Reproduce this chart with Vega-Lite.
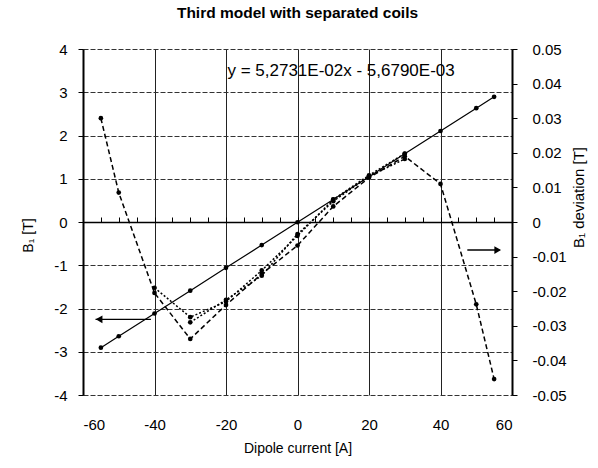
{
  "$schema": "https://vega.github.io/schema/vega-lite/v6.json",
  "width": 429,
  "height": 346,
  "autosize": "none",
  "padding": {"left": 83, "top": 49, "right": 86, "bottom": 73},
  "background": "white",
  "title": {"text": "Third model with separated coils", "fontSize": 15.5, "font": "Liberation Sans", "fontWeight": "bold", "anchor": "middle", "offset": 21, "color": "black"},
  "config": {
    "view": {"stroke": null},
    "axis": {"labelFont": "Liberation Sans", "titleFont": "Liberation Sans", "labelColor": "black", "titleColor": "black", "titleFontWeight": "normal", "tickColor": "black", "domainColor": "black", "labelExpr": "replace(datum.label, '−', '-')"}
  },
  "datasets": {
    "fit": [
      {"I": -55, "B": -2.906}, {"I": -50, "B": -2.642}, {"I": -40, "B": -2.115},
      {"I": -30, "B": -1.588}, {"I": -20, "B": -1.060}, {"I": -10, "B": -0.533},
      {"I": 0, "B": -0.006}, {"I": 10, "B": 0.522}, {"I": 20, "B": 1.049},
      {"I": 30, "B": 1.576}, {"I": 40, "B": 2.104}, {"I": 50, "B": 2.631}, {"I": 55, "B": 2.895}
    ],
    "dev": [
      {"I": -55, "dev": 0.0300, "s": "A"}, {"I": -50, "dev": 0.0085, "s": "A"}, {"I": -40, "dev": -0.0205, "s": "A"},
      {"I": -30, "dev": -0.0338, "s": "A"}, {"I": -20, "dev": -0.0240, "s": "A"}, {"I": -10, "dev": -0.0150, "s": "A"},
      {"I": 0, "dev": -0.0068, "s": "A"}, {"I": 10, "dev": 0.0045, "s": "A"}, {"I": 20, "dev": 0.0128, "s": "A"},
      {"I": 30, "dev": 0.0190, "s": "A"}, {"I": 40, "dev": 0.0110, "s": "A"}, {"I": 50, "dev": -0.0238, "s": "A"},
      {"I": 55, "dev": -0.0454, "s": "A"},
      {"I": -40, "dev": -0.0190, "s": "B"}, {"I": -30, "dev": -0.0275, "s": "B"}, {"I": -20, "dev": -0.0230, "s": "B"},
      {"I": -10, "dev": -0.0140, "s": "B"}, {"I": 0, "dev": -0.0040, "s": "B"}, {"I": 10, "dev": 0.0065, "s": "B"},
      {"I": 20, "dev": 0.0135, "s": "B"}, {"I": 30, "dev": 0.0198, "s": "B"},
      {"I": -30, "dev": -0.0290, "s": "C"}, {"I": -20, "dev": -0.0225, "s": "C"}, {"I": -10, "dev": -0.0155, "s": "C"},
      {"I": 0, "dev": -0.0035, "s": "C"}, {"I": 10, "dev": 0.0060, "s": "C"}, {"I": 20, "dev": 0.0132, "s": "C"},
      {"I": 30, "dev": 0.0182, "s": "C"}
    ]
  },
  "layer": [
    {
      "encoding": {
        "x": {"field": "I", "type": "quantitative", "scale": {"domain": [-60, 60], "nice": false},
          "axis": {"orient": "bottom", "values": [-60, -40, -20, 0, 20, 40, 60], "grid": true, "gridColor": "#222", "gridWidth": 1, "domain": false, "tickSize": 0, "labelPadding": 22, "labelFontSize": 15, "title": "Dipole current [A]", "titleFontSize": 14, "titlePadding": 9}},
        "y": {"field": "B", "type": "quantitative", "scale": {"domain": [-4, 4], "nice": false},
          "axis": {"orient": "left", "values": [-4, -3, -2, -1, 0, 1, 2, 3, 4], "grid": true, "gridColor": "#333", "gridDash": [5, 2], "gridWidth": 1, "domainWidth": 2, "tickSize": 5, "labelFontSize": 15, "labelPadding": 11, "title": "B₁ [T]", "titleFontSize": 14, "titleX": -48, "titleY": 186}}
      },
      "layer": [
        {"data": {"name": "fit"}, "mark": {"type": "line", "color": "black", "strokeWidth": 1.2, "point": {"filled": true, "size": 22, "color": "black"}}},
        {"data": {"values": [{"I": -56.5, "I2": -41, "B": -2.25}]}, "mark": {"type": "rule", "color": "black", "strokeWidth": 1.2}, "encoding": {"x2": {"field": "I2"}}},
        {"data": {"values": [{"I": -55.5, "B": -2.25}]}, "mark": {"type": "point", "shape": "triangle-left", "filled": true, "color": "black", "size": 60, "opacity": 1}},
        {"data": {"values": [{"I": -19.6, "B": 3.49, "label": "y = 5,2731E-02x - 5,6790E-03"}]}, "mark": {"type": "text", "align": "left", "baseline": "middle", "font": "Liberation Sans", "fontSize": 17, "color": "black"}, "encoding": {"text": {"field": "label"}}}
      ]
    },
    {
      "encoding": {
        "x": {"field": "I", "type": "quantitative",
          "axis": {"orient": "top", "offset": -173, "labels": false, "values": [-55, -50, -45, -40, -35, -30, -25, -20, -15, -10, -5, 0, 5, 10, 15, 20, 25, 30, 35, 40, 45, 50, 55], "tickSize": 5, "domainWidth": 1.5, "grid": false, "title": null}},
        "y": {"field": "dev", "type": "quantitative", "scale": {"domain": [-0.05, 0.05], "nice": false},
          "axis": {"orient": "right", "values": [-0.05, -0.04, -0.03, -0.02, -0.01, 0, 0.01, 0.02, 0.03, 0.04, 0.05], "format": "~g", "grid": false, "domainWidth": 2, "tickSize": 5, "labelFontSize": 15, "labelPadding": 15, "title": "B₁ deviation [T]", "titleFontSize": 15, "titleAngle": 270, "titleX": 74, "titleY": 148}}
      },
      "layer": [
        {"data": {"name": "dev"}, "mark": {"type": "line", "color": "black", "strokeWidth": 1.5, "point": {"filled": true, "size": 22, "color": "black"}},
          "encoding": {"detail": {"field": "s"}, "strokeDash": {"field": "s", "type": "nominal", "scale": {"domain": ["A", "B", "C"], "range": [[5, 3], [2, 2], [2, 2]]}, "legend": null}}},
        {"data": {"values": [{"I": 47.5, "I2": 56.5, "dev": -0.0081}]}, "mark": {"type": "rule", "color": "black", "strokeWidth": 1.5}, "encoding": {"x2": {"field": "I2"}}},
        {"data": {"values": [{"I": 56, "dev": -0.0081}]}, "mark": {"type": "point", "shape": "triangle-right", "filled": true, "color": "black", "size": 60, "opacity": 1}}
      ]
    }
  ],
  "resolve": {"scale": {"y": "independent"}, "axis": {"x": "independent"}}
}
